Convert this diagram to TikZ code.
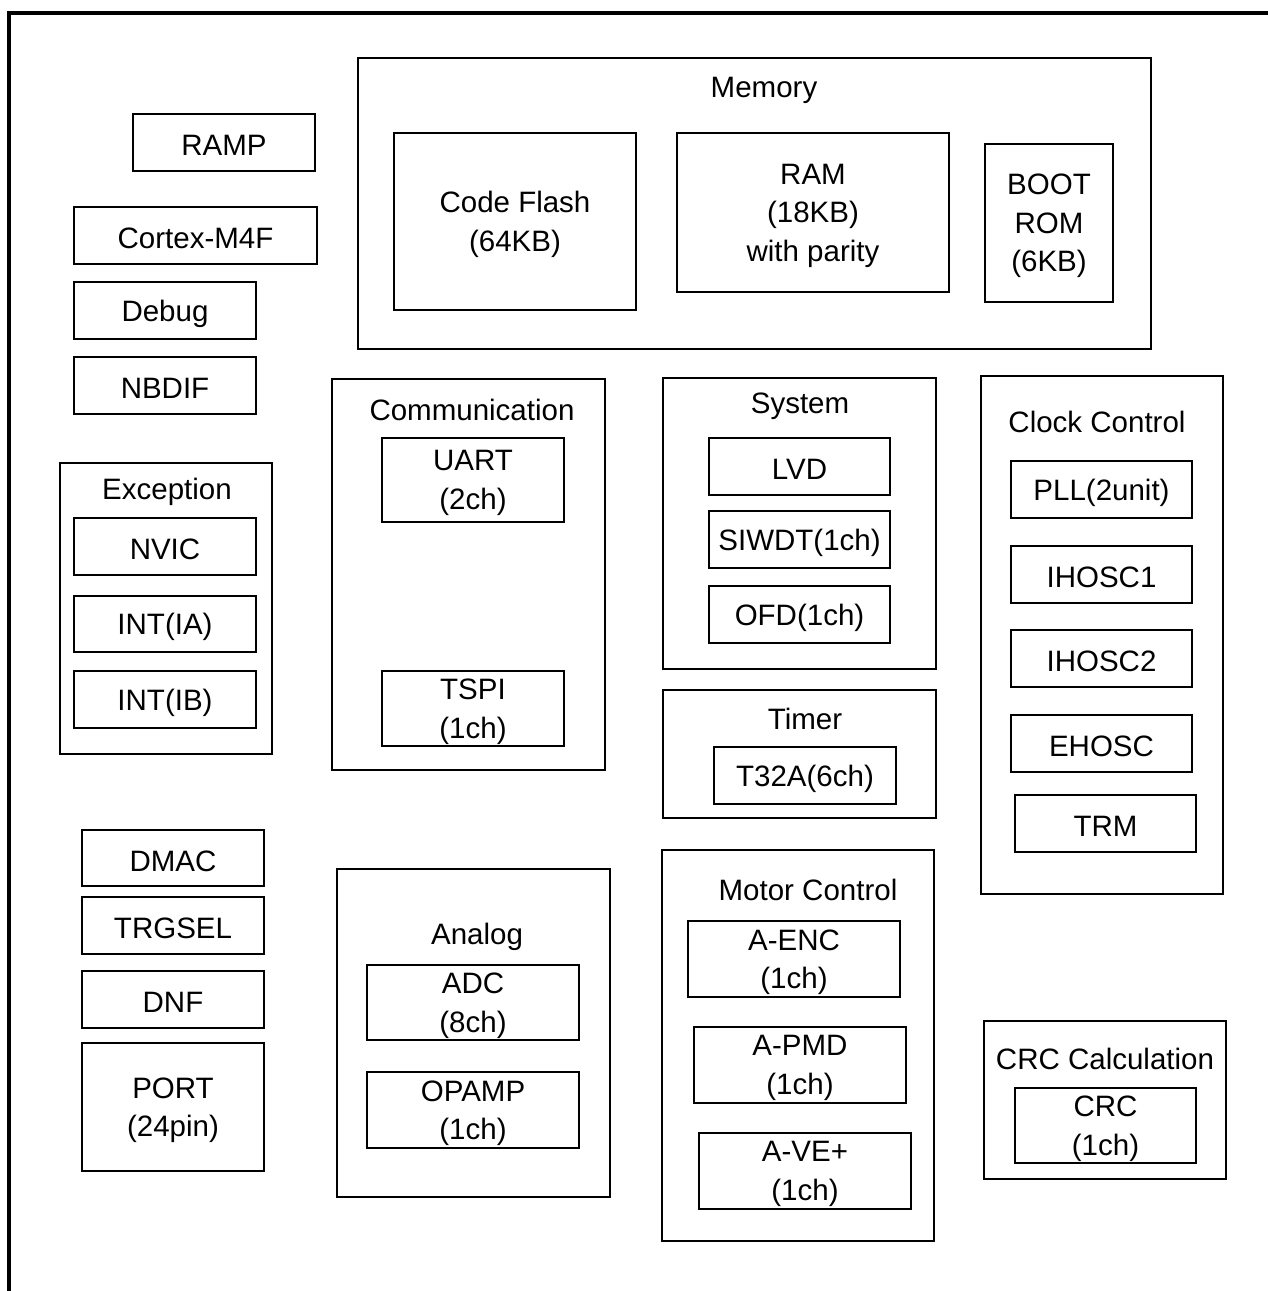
\documentclass[tikz,border=0pt]{standalone}
\usepackage{fontspec}
\setmainfont{Liberation Sans}
\newcommand{\lblfont}{\fontsize{29.5}{38.5}\selectfont}
\begin{document}
\begin{tikzpicture}[x=1pt,y=-1pt,
  grp/.style={draw, line width=2.4pt, inner sep=0pt},
  inbox/.style={draw, line width=1.6pt, inner sep=0pt},
  lbl/.style={inner sep=0pt, align=center, font=\lblfont},
  ttl/.style={inner sep=0pt, font=\lblfont}]
\useasboundingbox (0,0) rectangle (1268,1291);
% outer frame (only top and left edges visible)
\node[draw, line width=3.6pt, minimum width=1400pt, minimum height=1400pt, anchor=north west, inner sep=0pt] (frame) at (7,11) {};

% Memory
\node[grp, minimum width=793pt, minimum height=291pt] (mem) at (754.5,203.5) {};
\node[ttl] (memt) at (764,90) {Memory};
\node[inbox, minimum width=242pt, minimum height=177pt] (flash) at (515,221.5) {};
\node[lbl] at ([yshift=-3pt]flash.center) {Code Flash\\(64KB)};
\node[inbox, minimum width=272pt, minimum height=159pt] (ram) at (813,212.5) {};
\node[lbl] at ([yshift=-3pt]ram.center) {RAM\\(18KB)\\with parity};
\node[inbox, minimum width=128pt, minimum height=158pt] (boot) at (1049,223) {};
\node[lbl] at ([yshift=-3pt]boot.center) {BOOT\\ROM\\(6KB)};

% left column
\node[inbox, minimum width=182pt, minimum height=57pt] (ramp) at (224,142.5) {};
\node[lbl] at ([yshift=-3pt]ramp.center) {RAMP};
\node[inbox, minimum width=243pt, minimum height=57pt] (cortex) at (195.5,235.5) {};
\node[lbl] at ([yshift=-3pt]cortex.center) {Cortex-M4F};
\node[inbox, minimum width=182pt, minimum height=57pt] (debug) at (165,310.5) {};
\node[lbl] at ([yshift=-3pt]debug.center) {Debug};
\node[inbox, minimum width=182pt, minimum height=57pt] (nbdif) at (165,385.5) {};
\node[lbl] at ([yshift=-3pt]nbdif.center) {NBDIF};

% Exception
\node[grp, minimum width=212pt, minimum height=291pt] (exc) at (166,608.5) {};
\node[ttl] (exct) at (167,492) {Exception};
\node[inbox, minimum width=182pt, minimum height=57pt] (nvic) at (165,546.5) {};
\node[lbl] at ([yshift=-3pt]nvic.center) {NVIC};
\node[inbox, minimum width=182pt, minimum height=56pt] (intia) at (165,624) {};
\node[lbl] at ([yshift=-3pt]intia.center) {INT(IA)};
\node[inbox, minimum width=182pt, minimum height=57pt] (intib) at (165,699.5) {};
\node[lbl] at ([yshift=-3pt]intib.center) {INT(IB)};

% Communication
\node[grp, minimum width=273pt, minimum height=391pt] (com) at (468.5,574.5) {};
\node[ttl] (comt) at (472,410) {Communication};
\node[inbox, minimum width=182pt, minimum height=84pt] (uart) at (473,480) {};
\node[lbl] at ([yshift=-3pt]uart.center) {UART\\(2ch)};
\node[inbox, minimum width=182pt, minimum height=75pt] (tspi) at (473,708.5) {};
\node[lbl] at ([yshift=-3pt]tspi.center) {TSPI\\(1ch)};

% System
\node[grp, minimum width=273pt, minimum height=291pt] (sys) at (799.5,523.5) {};
\node[ttl] (syst) at (800,406) {System};
\node[inbox, minimum width=181pt, minimum height=57pt] (lvd) at (799.5,466.5) {};
\node[lbl] at ([yshift=-3pt]lvd.center) {LVD};
\node[inbox, minimum width=181pt, minimum height=57pt] (siwdt) at (799.5,539.5) {};
\node[lbl] at ([yshift=-3pt]siwdt.center) {SIWDT(1ch)};
\node[inbox, minimum width=181pt, minimum height=57pt] (ofd) at (799.5,614.5) {};
\node[lbl] at ([yshift=-3pt]ofd.center) {OFD(1ch)};

% Timer
\node[grp, minimum width=273pt, minimum height=128pt] (tim) at (799.5,754) {};
\node[ttl] (timt) at (805,719) {Timer};
\node[inbox, minimum width=182pt, minimum height=57pt] (t32a) at (805,775.5) {};
\node[lbl] at ([yshift=-3pt]t32a.center) {T32A(6ch)};

% Clock Control
\node[grp, minimum width=242pt, minimum height=518pt] (clk) at (1102,635) {};
\node[ttl] (clkt) at (1097,422) {Clock Control};
\node[inbox, minimum width=181pt, minimum height=57pt] (pll) at (1101.5,489.5) {};
\node[lbl] at ([yshift=-3pt]pll.center) {PLL(2unit)};
\node[inbox, minimum width=181pt, minimum height=57pt] (ihosc1) at (1101.5,574.5) {};
\node[lbl] at ([yshift=-3pt]ihosc1.center) {IHOSC1};
\node[inbox, minimum width=181pt, minimum height=57pt] (ihosc2) at (1101.5,658.5) {};
\node[lbl] at ([yshift=-3pt]ihosc2.center) {IHOSC2};
\node[inbox, minimum width=181pt, minimum height=57pt] (ehosc) at (1101.5,743.5) {};
\node[lbl] at ([yshift=-3pt]ehosc.center) {EHOSC};
\node[inbox, minimum width=181pt, minimum height=57pt] (trm) at (1105.5,823.5) {};
\node[lbl] at ([yshift=-3pt]trm.center) {TRM};

% lower left column
\node[inbox, minimum width=182pt, minimum height=56pt] (dmac) at (173,858) {};
\node[lbl] at ([yshift=-3pt]dmac.center) {DMAC};
\node[inbox, minimum width=182pt, minimum height=57pt] (trgsel) at (173,925.5) {};
\node[lbl] at ([yshift=-3pt]trgsel.center) {TRGSEL};
\node[inbox, minimum width=182pt, minimum height=57pt] (dnf) at (173,999.5) {};
\node[lbl] at ([yshift=-3pt]dnf.center) {DNF};
\node[inbox, minimum width=182pt, minimum height=128pt] (port) at (173,1107) {};
\node[lbl] at ([yshift=-3pt]port.center) {PORT\\(24pin)};

% Analog
\node[grp, minimum width=273pt, minimum height=328pt] (ana) at (473.5,1033) {};
\node[ttl] (anat) at (477,937) {Analog};
\node[inbox, minimum width=212pt, minimum height=75pt] (adc) at (473,1002.5) {};
\node[lbl] at ([yshift=-3pt]adc.center) {ADC\\(8ch)};
\node[inbox, minimum width=212pt, minimum height=76pt] (opamp) at (473,1110) {};
\node[lbl] at ([yshift=-3pt]opamp.center) {OPAMP\\(1ch)};

% Motor Control
\node[grp, minimum width=272pt, minimum height=391pt] (mot) at (798,1045.5) {};
\node[ttl] (mott) at (808,890) {Motor Control};
\node[inbox, minimum width=212pt, minimum height=76pt] (aenc) at (794,959) {};
\node[lbl] at ([yshift=-3pt]aenc.center) {A-ENC\\(1ch)};
\node[inbox, minimum width=212pt, minimum height=76pt] (apmd) at (800,1065) {};
\node[lbl] at ([yshift=-3pt]apmd.center) {A-PMD\\(1ch)};
\node[inbox, minimum width=212pt, minimum height=76pt] (ave) at (805,1171) {};
\node[lbl] at ([yshift=-3pt]ave.center) {A-VE+\\(1ch)};

% CRC Calculation
\node[grp, minimum width=242pt, minimum height=158pt] (crcg) at (1105,1100) {};
\node[ttl] (crct) at (1105,1059) {CRC Calculation};
\node[inbox, minimum width=181pt, minimum height=75pt] (crc) at (1105.5,1125.5) {};
\node[lbl] at ([yshift=-3pt]crc.center) {CRC\\(1ch)};
\end{tikzpicture}
\end{document}
